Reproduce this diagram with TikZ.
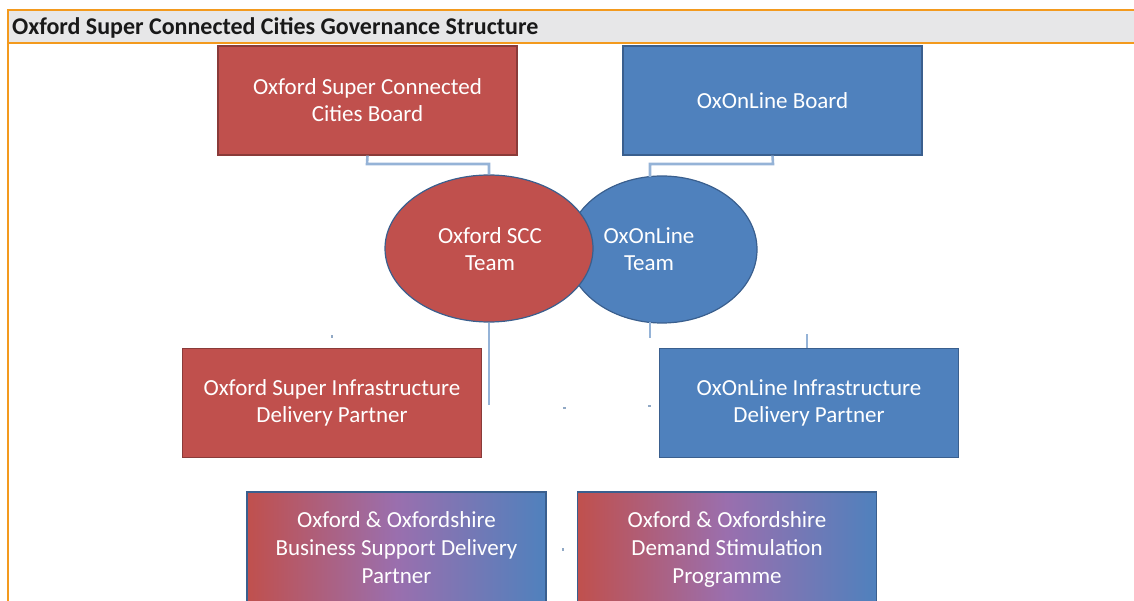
\documentclass[tikz,border=0pt]{standalone}
\usepackage{fontspec}
\setmainfont{Carlito}
\usetikzlibrary{shapes.geometric,calc}
\definecolor{ored}{HTML}{C0504D}
\definecolor{oblue}{HTML}{4F81BD}
\definecolor{redline}{HTML}{8A3B39}
\definecolor{blueline}{HTML}{3A5F8E}
\definecolor{connc}{HTML}{95B3D7}
\definecolor{orangec}{HTML}{F39A1E}
\definecolor{headgray}{HTML}{E7E7E8}
\definecolor{midpurp}{HTML}{9A6FAE}
\tikzset{
  boxbase/.style={rectangle, minimum width=299pt, minimum height=109pt, inner sep=0pt, text=white, align=center, font=\fontsize{23}{27}\selectfont},
  redbox/.style={boxbase, fill=ored, draw=redline, line width=1.2pt},
  bluebox/.style={boxbase, fill=oblue, draw=blueline, line width=1.2pt},
  gradbox/.style={boxbase, left color=ored, right color=oblue, middle color=midpurp, draw=blueline, line width=1.2pt, minimum height=120pt, font=\fontsize{23}{28}\selectfont},
  redell/.style={ellipse, fill=ored, draw=blueline, line width=1.2pt, inner sep=0pt},
  blueell/.style={ellipse, fill=oblue, draw=blueline, line width=1.2pt, inner sep=0pt},
  elltext/.style={text=white, align=center, font=\fontsize{23}{27}\selectfont, inner sep=0pt},
  conn/.style={draw=connc, line width=2.6pt},
  tick/.style={draw=connc!80!gray, line width=2.2pt},
}
\begin{document}
\begin{tikzpicture}[x=1pt,y=-1pt]
\useasboundingbox (0,0) rectangle (1134,601);
% header
\fill[headgray] (8,11) rectangle (1134,43);
\draw[orangec, line width=2.6pt] (7,10) -- (1134,10);
\draw[orangec, line width=2.6pt] (8,43) -- (1134,43);
\draw[orangec, line width=2.6pt] (8,10) -- (8,601);
\node[anchor=west, inner sep=0pt, font=\fontsize{24}{26}\selectfont\bfseries, text=black!90] (title) at (12,27.5) {Oxford Super Connected Cities Governance Structure};
% boxes
\node[redbox] (b1) at (367.5,100.5) {Oxford Super Connected\\Cities Board};
\node[bluebox] (b2) at (772.5,100.5) {OxOnLine Board};
\node[redbox] (b3) at (332,403) {Oxford Super Infrastructure\\Delivery Partner};
\node[bluebox] (b4) at (809,403) {OxOnLine Infrastructure\\Delivery Partner};
\node[gradbox] (b5) at (396.5,552) {Oxford \& Oxfordshire\\Business Support Delivery\\Partner\strut};
\node[gradbox] (b6) at (727,552) {Oxford \& Oxfordshire\\Demand Stimulation\\Programme\strut};
% ellipses
\node[blueell, minimum width=190pt, minimum height=147pt] (e2) at (662,249.5) {};
\node[redell, minimum width=208pt, minimum height=147pt] (e1) at (489,248.5) {};
\node[elltext] (t1) at (490,249) {Oxford SCC\\Team};
\node[elltext] (t2) at (649,249) {OxOnLine\\Team};
% connectors
\coordinate (j1) at (367,164);
\coordinate (j2) at (773,164);
\coordinate (e2top) at (650,177);
\coordinate (e2bot) at (650,322);
\coordinate (d1) at (489,405);
\coordinate (d2) at (650,338);
\draw[conn] (b1.south) -- (j1) -| (e1.north);
\draw[conn] (b2.south) -- (j2) -| (e2top);
\draw[conn] (e1.south) -- (d1);
\draw[conn] (e2bot) -- (d2);
\coordinate (k1) at (807,334);
\draw[conn] (k1) -- (b4.north -| k1);
% small ticks
\coordinate (s1) at (332,335);
\coordinate (s2) at (563,408);
\coordinate (s3) at (648,406);
\coordinate (s4) at (563,548);
\draw[tick] (s1) -- ++(0,2.5);
\draw[tick] (s2) -- ++(3,0);
\draw[tick] (s3) -- ++(3,0);
\draw[tick] (s4) -- ++(0,3);
\end{tikzpicture}
\end{document}
